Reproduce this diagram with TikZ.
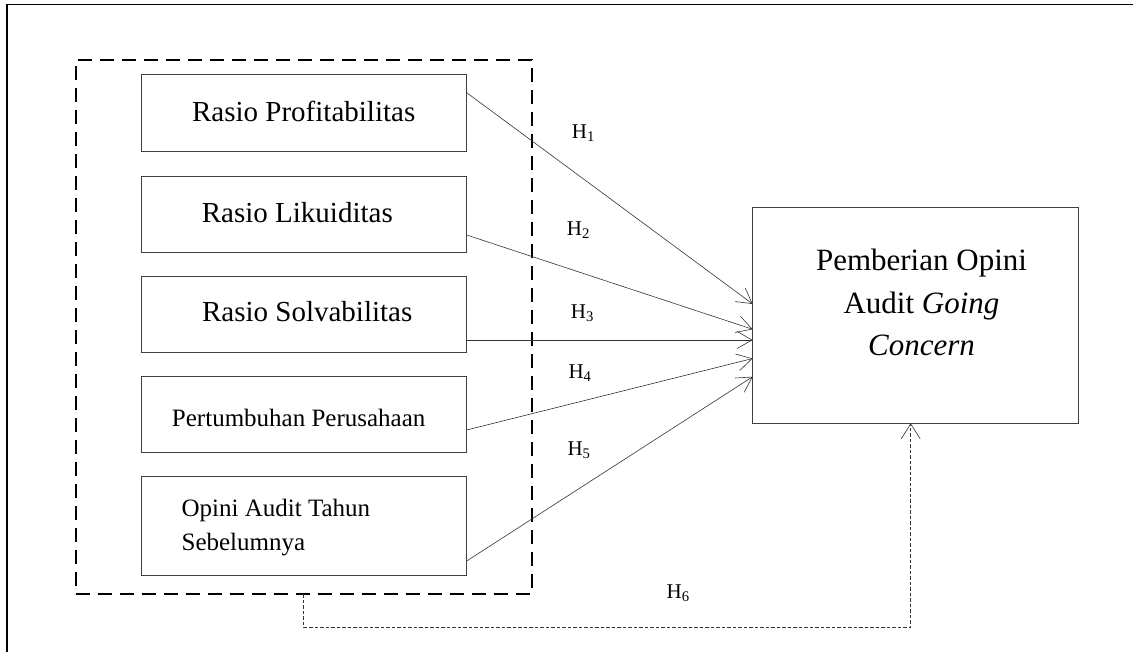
\documentclass[tikz,border=0pt]{standalone}
\usepackage{fontspec}
\setmainfont{Liberation Serif}
\usetikzlibrary{arrows.meta,calc}
\begin{document}
\begin{tikzpicture}[x=1pt,y=-1pt,
  box/.style={draw=black!75,line width=0.9pt,inner sep=0pt,outer sep=0pt,anchor=north west},
  grpbox/.style={draw=black,line width=1.8pt,dash pattern=on 14pt off 8pt,inner sep=0pt,outer sep=0pt,anchor=north west},
  link/.style={draw=black!80,line width=0.6pt,-{Straight Barb[length=15pt,width=17pt,line width=0.6pt]}},
  hlink/.style={draw=black!80,line width=0.7pt,dash pattern=on 3.5pt off 2pt,-{Straight Barb[length=15pt,width=19pt,line width=0.6pt]}},
  bigtxt/.style={font=\fontsize{29}{33}\selectfont,inner sep=0pt},
  midtxt/.style={font=\fontsize{25}{33}\selectfont,inner sep=0pt},
  goaltxt/.style={font=\fontsize{31}{42.5}\selectfont,inner sep=0pt},
  hyp/.style={font=\fontsize{21}{24}\selectfont,inner sep=0pt,anchor=base west},
  frameline/.style={draw=black,line width=1.6pt}
]
\useasboundingbox (0,0) rectangle (1133,652);
% frame (top and left edges)
\coordinate (fa) at (7,652);
\coordinate (fb) at (7,4.5);
\coordinate (fc) at (1133,4.5);
\draw[frameline] (fa) -- (fb) -- (fc);

% dashed group box
\node[grpbox,minimum width=456pt,minimum height=534pt] (grp) at (75.7,60) {};

% variable boxes
\node[box,minimum width=325.7pt,minimum height=76.3pt] (b1) at (141,74.7) {};
\node[box,minimum width=325.7pt,minimum height=76.3pt] (b2) at (141,176) {};
\node[box,minimum width=325.7pt,minimum height=76.4pt] (b3) at (141,276.3) {};
\node[box,minimum width=325.7pt,minimum height=76pt] (b4) at (141,376.7) {};
\node[box,minimum width=325.7pt,minimum height=99pt] (b5) at (141,476.7) {};

\node[bigtxt,anchor=base] (t1) at (303.7,121.7) {Rasio Profitabilitas};
\node[bigtxt,anchor=base] (t2) at (297.3,222.7) {Rasio Likuiditas};
\node[bigtxt,anchor=base] (t3) at (307.2,321.7) {Rasio Solvabilitas};
\node[midtxt,anchor=base] (t4) at (298.7,426.7) {Pertumbuhan Perusahaan};
\node[midtxt,anchor=base west] (t5a) at (181.4,516.7) {Opini Audit Tahun};
\node[midtxt,anchor=base west] (t5b) at (181.4,550) {Sebelumnya};

% dependent variable box
\node[box,minimum width=325.6pt,minimum height=215.6pt] (goal) at (752.7,207.7) {};
\node[goaltxt,anchor=base] (g1) at (921.5,271) {Pemberian Opini};
\node[goaltxt,anchor=base] (g2) at (921.5,314) {Audit \textit{Going}};
\node[goaltxt,anchor=base] (g3) at (921.5,355.7) {\textit{Concern}};

% hypotheses arrows
\draw[link] ([yshift=20.15pt]b1.east) -- ([yshift=11.5pt]goal.west);
\draw[link] ([yshift=-20.85pt]b2.east) -- ([yshift=-13.8pt]goal.west);
\draw[link] ([yshift=-25.5pt]b3.east) -- ([yshift=-24.5pt]goal.west);
\draw[link] ([yshift=-15.3pt]b4.east) -- ([yshift=-43pt]goal.west);
\draw[link] ([yshift=-34.8pt]b5.east) -- ([yshift=-61.2pt]goal.west);

\coordinate (turn) at (303.7,627);
\draw[hlink] (grp.south) -- (turn) -| ([xshift=-4.8pt]goal.south);

% labels
\node[hyp] (h1) at (571.7,138.3) {H\textsubscript{1}};
\node[hyp] (h2) at (566.7,235.7) {H\textsubscript{2}};
\node[hyp] (h3) at (570.7,318.3) {H\textsubscript{3}};
\node[hyp] (h4) at (568.3,378.3) {H\textsubscript{4}};
\node[hyp] (h5) at (567.3,455) {H\textsubscript{5}};
\node[hyp] (h6) at (666.4,598.3) {H\textsubscript{6}};
\end{tikzpicture}
\end{document}
